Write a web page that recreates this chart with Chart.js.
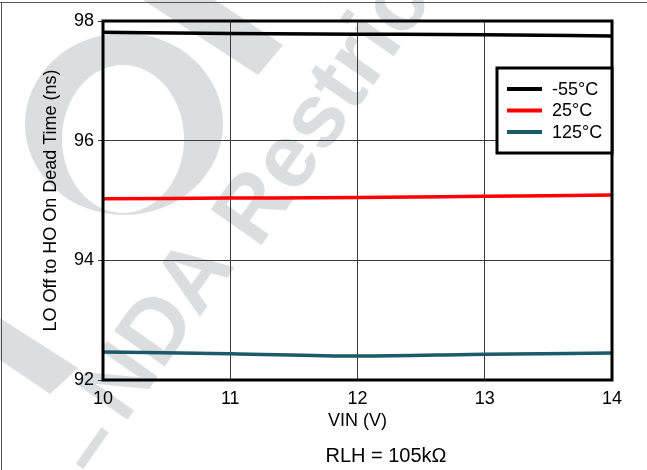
<!DOCTYPE html>
<html>
<head>
<meta charset="utf-8">
<script src="https://cdn.jsdelivr.net/npm/chart.js@4.4.1/dist/chart.umd.min.js"></script>
<style>
  html, body { margin: 0; padding: 0; background: #ffffff; }
  #wrap { position: relative; width: 647px; height: 470px; }
  canvas { display: block; }
</style>
</head>
<body>
<div id="wrap"><canvas id="c" width="647" height="470"></canvas></div>
<script>
// ---- data ----
const vin = [10, 11, 12, 13, 14];
const seriesLabels = ['-55°C', '25°C', '125°C'];
const deadM55 = [97.81, 97.79, 97.78, 97.77, 97.75];
const dead25  = [95.03, 95.04, 95.05, 95.07, 95.09];
const dead125 = [92.47, 92.44, 92.40, 92.43, 92.45];
const yTicks = [92, 94, 96, 98];
const xTitle = 'VIN (V)';
const yTitle = 'LO Off to HO On Dead Time (ns)';
const noteText = 'RLH = 105kΩ';

const FONT = "'Liberation Sans', Arial, Helvetica, sans-serif";
const colors = ['#000000', '#ff0000', '#1b5a68'];

function pts(arr) { return vin.map((x, i) => ({ x: x, y: arr[i] })); }

function rotText(ctx, txt, x, y, align) {
  ctx.save();
  ctx.translate(x, y);
  ctx.rotate(-55 * Math.PI / 180);
  ctx.textAlign = align;
  ctx.textBaseline = 'alphabetic';
  ctx.fillText(txt, 0, 0);
  ctx.restore();
}

const watermark = {
  id: 'watermark',
  beforeDraw(chart) {
    const ctx = chart.ctx;
    ctx.save();
    ctx.fillStyle = '#ffffff';
    ctx.fillRect(0, 0, chart.width, chart.height);
    ctx.fillStyle = '#dcdddf';
    // ring
    ctx.beginPath();
    ctx.ellipse(124, 124, 99, 91, 0, 0, Math.PI * 2);
    ctx.ellipse(123, 139, 61, 74, 0, 0, Math.PI * 2);
    ctx.fill('evenodd');
    // upper bar
    ctx.beginPath();
    ctx.moveTo(143, 0); ctx.lineTo(215, 0); ctx.lineTo(283, 45); ctx.lineTo(258, 75);
    ctx.closePath(); ctx.fill();
    // lower-left bar
    ctx.beginPath();
    ctx.moveTo(0, 318); ctx.lineTo(78, 368); ctx.lineTo(50, 394); ctx.lineTo(0, 360);
    ctx.closePath(); ctx.fill();
    // text
    ctx.font = 'bold 90px ' + FONT;
    rotText(ctx, 'Restrictions', 258, 250, 'left');
    rotText(ctx, 'NDA', 180, 345, 'center');
    rotText(ctx, '–', 112, 462, 'center');
    ctx.restore();
    // page border
    ctx.save();
    ctx.strokeStyle = '#555555';
    ctx.lineWidth = 1;
    ctx.beginPath();
    ctx.moveTo(0, 2.5); ctx.lineTo(647, 2.5);
    ctx.moveTo(1.5, 2); ctx.lineTo(1.5, 470);
    ctx.stroke();
    ctx.restore();
  }
};

const frameAndLegend = {
  id: 'frameAndLegend',
  afterDraw(chart) {
    const ctx = chart.ctx;
    const a = chart.chartArea;
    ctx.save();
    ctx.strokeStyle = '#000';
    ctx.lineWidth = 3;
    ctx.strokeRect(a.left, a.top, a.right - a.left, a.bottom - a.top);
    // legend box
    const bx = 497, by = 68, bw = 115, bh = 85;
    ctx.fillStyle = '#fff';
    ctx.fillRect(bx, by, bw, bh);
    ctx.strokeRect(bx, by, bw, bh);
    ctx.font = '18px ' + FONT;
    ctx.textBaseline = 'middle';
    ctx.textAlign = 'left';
    chart.data.datasets.forEach((ds, i) => {
      const y = 89 + i * 21.5;
      ctx.strokeStyle = ds.borderColor;
      ctx.lineWidth = 4;
      ctx.beginPath();
      ctx.moveTo(507, y); ctx.lineTo(542, y);
      ctx.stroke();
      ctx.fillStyle = '#000';
      ctx.fillText(ds.label, 552, y + 1);
    });
    // note
    ctx.font = '20px ' + FONT;
    ctx.textAlign = 'center';
    ctx.fillStyle = '#000';
    ctx.fillText(noteText, 386, 456);
    ctx.restore();
  }
};

new Chart(document.getElementById('c'), {
  type: 'line',
  data: {
    datasets: [
      { label: seriesLabels[0], data: pts(deadM55), borderColor: colors[0] },
      { label: seriesLabels[1], data: pts(dead25),  borderColor: colors[1] },
      { label: seriesLabels[2], data: pts(dead125), borderColor: colors[2] }
    ]
  },
  options: {
    responsive: false,
    animation: false,
    devicePixelRatio: 1,
    layout: { padding: { left: 0, right: 35, top: 21, bottom: 0 } },
    elements: {
      line: { borderWidth: 3.5, tension: 0.4, cubicInterpolationMode: 'monotone', fill: false },
      point: { radius: 0, hoverRadius: 0 }
    },
    plugins: { legend: { display: false }, tooltip: { enabled: false } },
    scales: {
      x: {
        type: 'linear',
        min: 10, max: 14,
        afterFit(s) { s.height = 90; },
        afterBuildTicks(s) { s.ticks = vin.map(v => ({ value: v })); },
        ticks: { color: '#000', font: { family: FONT, size: 18 }, padding: 8, maxRotation: 0 },
        grid: { color: '#3a3a3a', lineWidth: 1, drawTicks: false },
        border: { display: false },
        title: { display: true, text: xTitle, color: '#000', font: { family: FONT, size: 18 }, padding: { top: 0, bottom: 38 } }
      },
      y: {
        min: 92, max: 98,
        afterFit(s) { s.width = 103; },
        afterBuildTicks(s) { s.ticks = yTicks.map(v => ({ value: v })); },
        ticks: { color: '#000', font: { family: FONT, size: 18 }, padding: 4 },
        grid: { color: '#3a3a3a', lineWidth: 1, tickLength: 5 },
        border: { display: false },
        title: { display: true, text: yTitle, color: '#000', font: { family: FONT, size: 18 }, padding: { top: 40, bottom: 0 } }
      }
    }
  },
  plugins: [watermark, frameAndLegend]
});
</script>
</body>
</html>
